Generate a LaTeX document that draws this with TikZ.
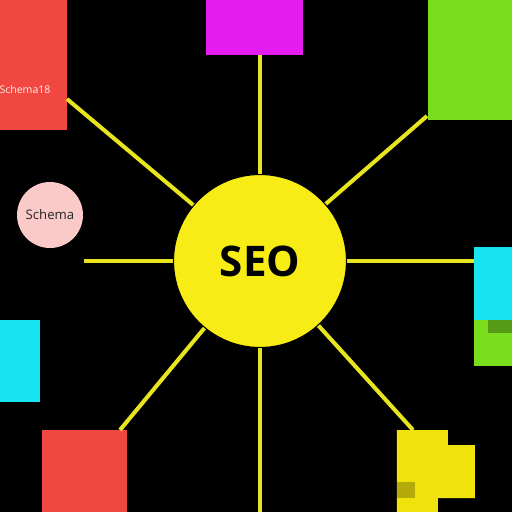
\documentclass[tikz,border=0pt]{standalone}
\usepackage{fontspec}
\setmainfont{Open Sans}
\definecolor{seoyellow}{RGB}{247,236,22}
\definecolor{spoke}{RGB}{232,228,30}
\definecolor{boxred}{RGB}{240,72,64}
\definecolor{boxmagenta}{RGB}{228,28,240}
\definecolor{boxgreen}{RGB}{122,222,30}
\definecolor{boxcyan}{RGB}{22,228,240}
\definecolor{boxpink}{RGB}{250,202,200}
\definecolor{boxyellow}{RGB}{240,226,12}
\tikzset{
  spokeline/.style={draw=spoke, line width=2.3pt},
  hub/.style={circle, fill=seoyellow, draw=black, line width=0.6pt,
    minimum size=3.46cm, inner sep=0pt, font=\fontsize{24}{24}\selectfont\bfseries},
  topic/.style={circle, fill=boxpink, minimum size=1.32cm, inner sep=0pt,
    text=black!85, font=\fontsize{7.5}{8}\selectfont}
}

\begin{document}
\begin{tikzpicture}[x=0.02cm, y=-0.02cm]
   % background
   \fill[black] (0,0) rectangle (512,512);
   \useasboundingbox (0,0) rectangle (512,512);

   % boxes round the hub
   \fill[boxred] (0,0) rectangle (67,130);
   \node[text=white!90!boxred, font=\fontsize{6}{7}\selectfont, inner sep=0pt] (redlabel) at (25,90) {Schema18};
   \fill[boxmagenta] (206,0) rectangle (303,55);
   \fill[boxgreen] (428,0) rectangle (512,120);
   \fill[boxcyan] (474,247) rectangle (512,320);
   \fill[boxgreen] (474,320) rectangle (512,366);
   \fill[boxgreen!70!black] (488,320) rectangle (512,333);
   \fill[boxcyan] (0,320) rectangle (40,402);
   \fill[boxred] (42,430) rectangle (127,512);
   \fill[boxyellow] (397,430) -- (448,430) -- (448,445) -- (475,445)
      -- (475,498) -- (438,498) -- (438,512) -- (397,512) -- cycle;
   \fill[boxyellow!75!black] (397,482) rectangle (415,498);

   \node[topic] (schema) at (50,215) {Schema};

   % free ends of the spokes
   \coordinate (n)  at (260,55);
   \coordinate (nw) at (67,99);
   \coordinate (ne) at (427,116);
   \coordinate (w)  at (84,261);
   \coordinate (e)  at (474,261);
   \coordinate (sw) at (120,430);
   \coordinate (s)  at (260,512);
   \coordinate (se) at (413,430);
   \coordinate (hubc) at (260,261);

   \foreach \tip in {n, nw, ne, w, e, sw, s, se} {
    \draw[spokeline] (hubc) -- (\tip);
   }

   \node[hub] (seo) at (hubc) {SEO};
\end{tikzpicture}
\end{document}
